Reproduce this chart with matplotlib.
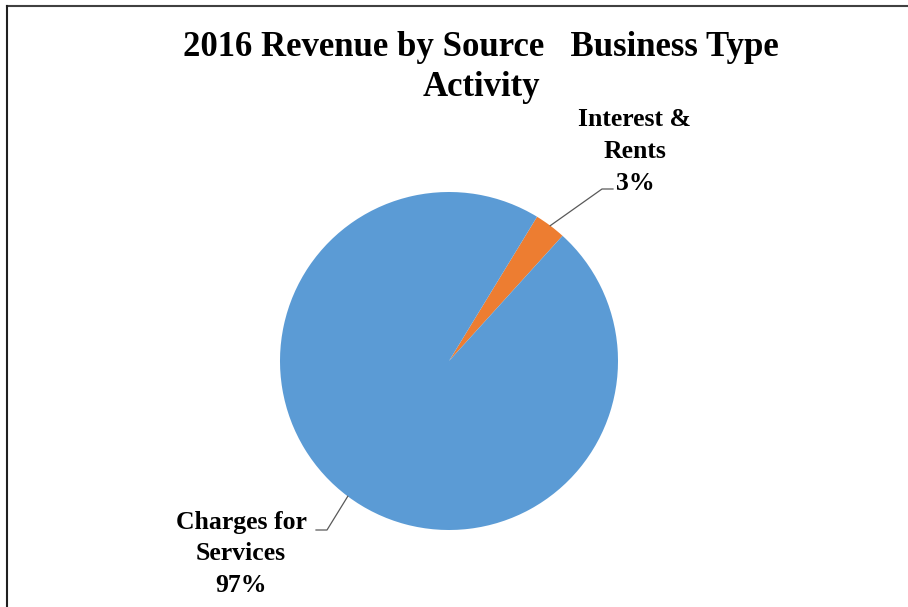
import matplotlib
matplotlib.use("Agg")
import matplotlib.pyplot as plt
from matplotlib.lines import Line2D
import numpy as np

# Data
categories = ["Interest &\nRents", "Charges for\nServices"]
values = [3, 97]
colors = ["#ED7D31", "#5B9BD5"]
title_text = "2016 Revenue by Source   Business Type\nActivity"

W, H = 908, 607
fig = plt.figure(figsize=(W / 100, H / 100), dpi=100)
fig.patch.set_facecolor("white")
ax = fig.add_axes([0, 0, 1, 1])
ax.set_xlim(0, W)
ax.set_ylim(0, H)
ax.set_aspect("equal")
ax.axis("off")

cx, cy, r = 449, H - 361, 169
start = 58.6
wedges, _ = ax.pie(values, colors=colors, startangle=start, counterclock=False,
                   center=(cx, cy), radius=r, frame=True,
                   wedgeprops=dict(linewidth=0))
ax.set_xlim(0, W)
ax.set_ylim(0, H)
ax.axis("off")

font = "Liberation Serif"
total = sum(values)
# label positions (text center) and elbow points
label_pos = [(635, H - 151), (241, H - 554)]
elbows = [((602, H - 189), (613, H - 189)), ((327, H - 530), (316, H - 530))]

for w, cat, v, (tx, ty), (e1, e2) in zip(wedges, categories, values, label_pos, elbows):
    mid = np.deg2rad((w.theta1 + w.theta2) / 2)
    px, py = cx + r * np.cos(mid), cy + r * np.sin(mid)
    ax.add_line(Line2D([px, e1[0], e2[0]], [py, e1[1], e2[1]],
                       color="#595959", linewidth=0.9))
    pct = f"{v / total * 100:.0f}%"
    ax.text(tx, ty, f"{cat}\n{pct}", ha="center", va="center",
            multialignment="center", fontsize=18.5, fontweight="bold",
            family=font, linespacing=1.5, color="#000000")

ax.text(481, H - 67, title_text, ha="center", va="center",
        multialignment="center", fontsize=25, fontweight="bold",
        family=font, linespacing=1.28, color="#000000")

# border lines (top and left)
fig.add_artist(Line2D([7 / W, 1], [1 - 6 / H, 1 - 6 / H], transform=fig.transFigure,
                      color="#404040", linewidth=1.5))
fig.add_artist(Line2D([7 / W, 7 / W], [0, 1 - 6 / H], transform=fig.transFigure,
                      color="#202020", linewidth=1.5))

fig.savefig("out.png", dpi=100, facecolor="white")
